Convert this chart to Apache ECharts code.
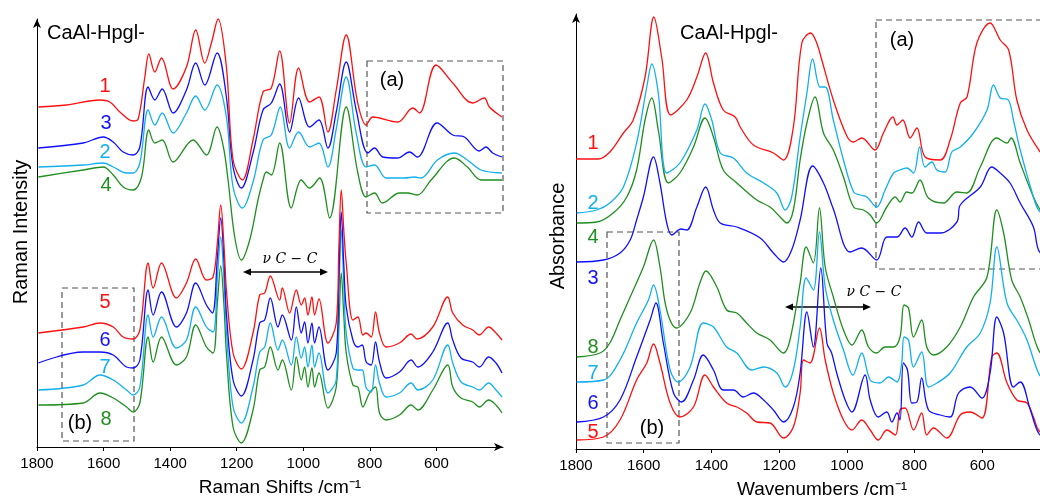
<!DOCTYPE html>
<html>
<head>
<meta charset="utf-8">
<script src="https://cdn.jsdelivr.net/npm/echarts@6/dist/echarts.min.js"></script>
<style>
  html, body { margin: 0; padding: 0; background: #fff; }
  #chart { width: 1040px; height: 499px; }
</style>
</head>
<body>
<div id="chart"></div>
<script>
// tick labels (cm-1)
const tickLabels = [1800, 1600, 1400, 1200, 1000, 800, 600];

// Raman spectra [wavenumber, intensity(a.u.)]
const raman1 = [[1796,340],[1711,342],[1611,347],[1581,345],[1551,335],[1511,326],[1496,328],[1476,370],[1464,393],[1446,375],[1426,389],[1391,358],[1351,380],[1323,417],[1296,384],[1276,404],[1256,428],[1231,380],[1211,287],[1183,267],[1151,307],[1121,355],[1096,359],[1071,396],[1041,324],[1014,379],[981,345],[953,350],[926,315],[901,357],[871,412],[837,345],[811,322],[791,330],[716,325],[671,339],[651,334],[601,382],[551,364],[491,344],[456,349],[441,340],[403,330]];
const raman3 = [[1796,299],[1661,304],[1601,310],[1571,305],[1541,295],[1511,292],[1491,300],[1466,360],[1446,347],[1424,358],[1391,334],[1351,357],[1323,384],[1296,362],[1259,394],[1231,350],[1211,280],[1186,259],[1151,294],[1121,337],[1096,344],[1071,363],[1041,315],[1014,349],[981,320],[953,327],[926,299],[901,335],[871,385],[841,337],[806,294],[786,299],[761,290],[717,289],[681,295],[657,290],[598,324],[551,312],[516,310],[471,296],[451,300],[431,294],[403,290]];
const raman2 = [[1796,280],[1661,282],[1601,284],[1571,280],[1531,274],[1511,274],[1491,284],[1466,337],[1446,322],[1424,334],[1391,314],[1351,334],[1323,351],[1296,337],[1259,362],[1231,330],[1211,260],[1183,239],[1151,265],[1121,307],[1096,312],[1069,340],[1041,299],[1014,315],[981,300],[953,304],[926,280],[901,318],[871,370],[841,314],[811,280],[786,282],[751,269],[696,269],[666,270],[646,269],[597,287],[546,294],[507,287],[466,277],[403,274]];
const raman4 = [[1796,270],[1661,277],[1601,280],[1571,272],[1541,260],[1511,257],[1486,270],[1464,317],[1446,304],[1424,307],[1391,285],[1331,307],[1291,292],[1259,320],[1240,300],[1226,267],[1206,210],[1186,187],[1161,207],[1136,247],[1121,267],[1111,275],[1096,272],[1071,304],[1036,239],[1006,267],[981,259],[951,269],[921,229],[871,340],[836,274],[811,250],[786,254],[762,244],[711,254],[687,254],[657,252],[616,267],[546,289],[507,280],[466,267],[403,267]];
const raman5 = [[1796,114],[1661,120],[1611,124],[1571,120],[1541,110],[1511,108],[1491,117],[1466,184],[1451,159],[1426,184],[1381,149],[1351,164],[1323,188],[1291,167],[1271,170],[1258,205],[1248,242],[1238,200],[1231,157],[1211,94],[1186,78],[1151,114],[1131,152],[1116,154],[1099,171],[1071,147],[1063,159],[1041,134],[1021,157],[1006,142],[996,149],[986,132],[974,150],[966,132],[953,148],[926,104],[901,124],[893,200],[886,257],[878,215],[871,184],[851,127],[836,130],[821,112],[811,114],[796,110],[783,135],[771,114],[751,100],[711,104],[676,113],[659,108],[611,120],[566,150],[551,134],[521,122],[491,117],[471,112],[443,120],[421,114],[403,107]];
const raman6 = [[1796,84],[1661,95],[1611,95],[1571,92],[1531,80],[1511,79],[1491,87],[1466,157],[1451,132],[1426,155],[1381,120],[1351,134],[1323,164],[1291,142],[1273,134],[1258,190],[1248,229],[1238,185],[1231,134],[1211,67],[1186,51],[1151,87],[1131,124],[1116,127],[1099,149],[1076,120],[1063,132],[1036,107],[1021,140],[1006,114],[996,125],[986,104],[974,124],[966,104],[953,120],[926,77],[901,94],[893,170],[886,235],[878,180],[871,140],[851,107],[836,100],[823,102],[811,85],[796,82],[783,105],[771,85],[751,69],[711,75],[676,87],[656,80],[611,95],[566,124],[551,107],[526,89],[491,85],[471,80],[443,90],[421,84],[403,74]];
const raman7 = [[1796,57],[1661,62],[1611,72],[1571,67],[1531,57],[1511,52],[1491,60],[1466,132],[1451,110],[1426,130],[1381,99],[1351,107],[1323,140],[1291,120],[1271,115],[1258,170],[1248,210],[1238,165],[1231,117],[1211,40],[1186,24],[1151,60],[1131,95],[1116,100],[1099,124],[1076,97],[1063,107],[1036,82],[1021,110],[1006,89],[996,100],[986,80],[974,102],[966,80],[953,94],[926,54],[901,67],[893,150],[886,217],[878,160],[871,114],[851,79],[836,77],[823,77],[811,59],[796,55],[783,82],[771,64],[751,50],[711,54],[676,64],[656,57],[611,67],[566,102],[551,84],[526,65],[491,60],[471,57],[443,64],[421,57],[403,50]];
const raman8 = [[1796,42],[1661,44],[1611,54],[1571,49],[1531,40],[1511,35],[1491,44],[1466,110],[1451,85],[1426,110],[1381,82],[1351,90],[1323,122],[1291,100],[1271,94],[1258,145],[1248,181],[1238,140],[1231,94],[1211,20],[1186,4],[1151,37],[1131,77],[1116,80],[1099,100],[1076,77],[1063,87],[1036,57],[1021,90],[1006,67],[996,80],[986,60],[974,79],[966,60],[953,74],[926,39],[901,60],[893,120],[886,174],[878,130],[871,94],[851,62],[836,60],[821,40],[801,54],[783,60],[771,34],[751,27],[711,32],[676,42],[656,37],[611,57],[566,82],[551,60],[526,49],[491,45],[471,40],[443,47],[421,42],[403,34]];

// IR spectra [wavenumber, absorbance(a.u.)]
const ir1 = [[1800,290],[1734,290],[1700,297],[1660,316],[1631,329],[1596,372],[1570,432],[1547,392],[1520,334],[1473,349],[1443,372],[1417,396],[1394,366],[1365,339],[1330,332],[1315,322],[1276,304],[1217,296],[1187,289],[1158,322],[1133,406],[1107,416],[1089,406],[1074,389],[1040,349],[1000,313],[981,307],[956,311],[917,299],[892,316],[864,332],[852,324],[835,329],[813,311],[793,321],[769,292],[724,289],[695,309],[665,346],[645,352],[616,406],[577,426],[547,409],[522,399],[498,349],[468,319],[429,297],[410,290]];
const ir2 = [[1798,236],[1739,239],[1700,246],[1660,262],[1621,306],[1591,362],[1576,385],[1557,356],[1532,276],[1493,286],[1443,319],[1419,345],[1399,329],[1374,296],[1335,291],[1296,276],[1246,266],[1207,256],[1182,239],[1163,252],[1138,312],[1118,356],[1101,390],[1079,362],[1064,362],[1040,329],[1010,289],[980,257],[961,254],[941,252],[912,242],[887,259],[862,276],[843,279],[823,281],[803,276],[785,302],[769,282],[749,287],[734,279],[710,277],[690,297],[665,302],[626,316],[586,339],[567,364],[547,351],[523,349],[508,329],[488,299],[449,252],[434,239],[410,232]];
const ir4 = [[1798,226],[1739,227],[1690,236],[1650,252],[1621,279],[1596,329],[1576,351],[1557,319],[1527,266],[1493,276],[1453,302],[1419,331],[1394,312],[1365,279],[1325,266],[1266,249],[1227,242],[1197,232],[1177,226],[1158,239],[1138,289],[1118,326],[1094,352],[1069,316],[1040,299],[1010,272],[980,242],[951,239],[931,234],[912,226],[882,242],[857,252],[843,247],[823,257],[808,256],[784,269],[759,251],[715,246],[675,257],[646,256],[606,282],[557,311],[527,306],[515,311],[488,286],[449,252],[429,239],[410,232]];
const ir3 = [[1798,187],[1719,189],[1670,196],[1640,209],[1621,229],[1601,252],[1571,292],[1552,266],[1532,226],[1517,214],[1490,220],[1473,219],[1443,242],[1417,262],[1394,239],[1374,226],[1325,222],[1256,211],[1217,196],[1187,187],[1163,199],[1138,229],[1101,283],[1069,266],[1040,240],[990,197],[956,201],[912,189],[882,212],[852,212],[828,221],[808,212],[788,227],[764,216],[724,216],[675,227],[665,244],[606,262],[572,282],[547,276],[518,266],[488,246],[449,222],[434,199],[410,190]];
const ir8 = [[1798,92],[1729,96],[1700,106],[1670,129],[1640,152],[1601,182],[1571,209],[1552,182],[1532,139],[1503,121],[1463,136],[1434,166],[1416,178],[1384,162],[1355,139],[1325,136],[1296,126],[1266,116],[1227,109],[1187,96],[1168,109],[1138,166],[1120,202],[1099,186],[1081,241],[1064,182],[1040,152],[1010,119],[985,104],[956,119],[936,102],[912,96],[887,102],[862,102],[843,112],[831,144],[818,141],[803,112],[779,129],[764,102],[744,94],[705,102],[665,122],[626,152],[586,172],[557,239],[537,216],[513,169],[488,152],[463,129],[434,99],[410,90]];
const ir7 = [[1798,67],[1719,69],[1670,89],[1621,126],[1586,149],[1571,164],[1552,139],[1522,79],[1498,67],[1463,82],[1424,126],[1394,122],[1355,102],[1325,96],[1281,79],[1246,82],[1207,76],[1182,62],[1158,79],[1138,122],[1120,171],[1099,159],[1081,217],[1064,162],[1040,129],[1010,99],[982,74],[956,96],[931,69],[902,66],[877,72],[852,67],[838,86],[831,112],[818,109],[803,82],[779,97],[759,62],[734,66],[695,76],[646,102],[606,116],[577,146],[557,202],[527,146],[493,126],[468,109],[434,76],[410,66]];
const ir6 = [[1798,27],[1719,32],[1670,49],[1621,92],[1581,129],[1564,146],[1542,106],[1512,56],[1488,47],[1453,69],[1424,94],[1394,79],[1365,59],[1335,59],[1306,52],[1276,56],[1246,49],[1217,39],[1187,27],[1158,42],[1138,76],[1118,137],[1099,102],[1077,181],[1059,106],[1045,96],[1030,76],[1005,49],[985,37],[946,74],[931,49],[907,32],[882,37],[867,27],[852,36],[843,29],[833,86],[821,79],[808,46],[793,47],[779,71],[759,39],[724,34],[695,32],[670,56],[636,62],[601,51],[577,76],[557,132],[537,116],[508,62],[488,67],[458,39],[434,16],[410,10]];
const ir5 = [[1798,9],[1719,12],[1670,29],[1621,69],[1591,86],[1571,105],[1552,86],[1522,46],[1493,32],[1453,42],[1419,74],[1394,62],[1355,46],[1325,42],[1296,36],[1266,27],[1227,26],[1187,11],[1158,22],[1138,56],[1128,89],[1109,86],[1081,121],[1064,89],[1040,56],[1010,29],[985,19],[956,29],[931,19],[907,9],[882,19],[857,14],[843,39],[828,41],[803,19],[779,36],[764,14],[744,21],[705,11],[665,34],[636,37],[601,31],[572,92],[557,96],[527,66],[498,49],[468,46],[449,32],[434,19],[410,12]];

const RED = '#ff1010', BLUE = '#1010ff', LBLUE = '#12b0ee', GREEN = '#1f8f1f';
const FONT = '"Liberation Sans", Arial, sans-serif';

const chart = echarts.init(document.getElementById('chart'));

function spec(data, color, g) {
  return {
    type: 'line', data: data, xAxisIndex: g, yAxisIndex: g,
    showSymbol: false, smooth: 0.35, silent: true,
    lineStyle: { color: color, width: 1.3 }, itemStyle: { color: color }
  };
}

function xAx(g) {
  return {
    type: 'value', gridIndex: g, inverse: true, min: 400, max: 1800, interval: 200,
    axisLine: { show: true, lineStyle: { color: '#000', width: 1 },
      symbol: g === 0 ? ['none', 'arrow'] : ['none', 'none'], symbolSize: [6, 9] },
    axisTick: { show: true, inside: false, length: 4, customValues: tickLabels, lineStyle: { color: '#000' } },
    axisLabel: { customValues: tickLabels, formatter: v => String(v), color: '#000', fontSize: 15, fontFamily: FONT, margin: 9 },
    splitLine: { show: false }
  };
}
function yAx(g, max) {
  return {
    type: 'value', gridIndex: g, min: 0, max: max,
    axisLine: { show: true, lineStyle: { color: '#000', width: 1 }, symbol: ['none', 'arrow'], symbolSize: [6, 9] },
    axisTick: { show: false }, axisLabel: { show: false }, splitLine: { show: false }
  };
}

function label(x, y, text, color, size, align) {
  return {
    type: 'text', x: x, y: y,
    style: { text: text, fill: color, font: (size || 20) + 'px ' + FONT, align: align || 'center', verticalAlign: 'middle' }
  };
}
function box(x, y, w, h) {
  return { type: 'rect', shape: { x: x, y: y, width: w, height: h },
    style: { fill: 'none', stroke: '#555', lineWidth: 1.2, lineDash: [6, 4] } };
}
function arrow(x1, x2, y) {
  return [
    { type: 'line', shape: { x1: x1 + 4, y1: y, x2: x2 - 4, y2: y }, style: { stroke: '#000', lineWidth: 1.3 } },
    { type: 'polygon', shape: { points: [[x1, y], [x1 + 8, y - 3.5], [x1 + 8, y + 3.5]] }, style: { fill: '#000' } },
    { type: 'polygon', shape: { points: [[x2, y], [x2 - 8, y - 3.5], [x2 - 8, y + 3.5]] }, style: { fill: '#000' } }
  ];
}
const nuStyle = { fill: '#000', font: 'italic 14px "DejaVu Serif", serif', align: 'center', verticalAlign: 'middle' };

chart.setOption({
  animation: false,
  grid: [
    { left: 37, width: 466, top: 19, bottom: 52, outerBoundsMode: 'none' },
    { left: 576, width: 474, top: 14, bottom: 50, outerBoundsMode: 'none' }
  ],
  xAxis: [xAx(0), xAx(1)],
  yAxis: [yAx(0, 428), yAx(1, 435)],
  series: [
    spec(raman4, GREEN, 0), spec(raman2, LBLUE, 0), spec(raman3, BLUE, 0), spec(raman1, RED, 0),
    spec(raman8, GREEN, 0), spec(raman7, LBLUE, 0), spec(raman6, BLUE, 0), spec(raman5, RED, 0),
    spec(ir4, GREEN, 1), spec(ir3, BLUE, 1), spec(ir2, LBLUE, 1), spec(ir1, RED, 1),
    spec(ir5, RED, 1), spec(ir6, BLUE, 1), spec(ir7, LBLUE, 1), spec(ir8, GREEN, 1)
  ],
  graphic: [
    // left panel
    label(47, 33, 'CaAl-Hpgl-', '#000', 20, 'left'),
    label(105, 86, '1', RED), label(106, 123, '3', BLUE), label(105, 152, '2', LBLUE), label(106, 185, '4', GREEN),
    label(105, 302, '5', RED), label(105, 340, '6', BLUE), label(105, 367, '7', LBLUE), label(106, 419, '8', GREEN),
    label(80, 423, '(b)', '#000'), label(392, 80, '(a)', '#000'),
    box(367, 61, 136, 152), box(62, 288, 72, 153),
    ...arrow(243, 328, 272),
    { type: 'text', x: 290, y: 259, style: Object.assign({ text: 'ν C − C' }, nuStyle) },
    { type: 'text', x: 21, y: 232, rotation: Math.PI / 2,
      style: { text: 'Raman Intensity', fill: '#000', font: '20px ' + FONT, align: 'center', verticalAlign: 'middle' } },
    label(280, 488, 'Raman Shifts /cm⁻¹', '#000', 19),
    // right panel
    label(680, 33, 'CaAl-Hpgl-', '#000', 20, 'left'),
    label(593, 143, '1', RED), label(593, 203, '2', LBLUE), label(593, 237, '4', GREEN), label(593, 278, '3', BLUE),
    label(593, 347, '8', GREEN), label(593, 373, '7', LBLUE), label(593, 403, '6', BLUE), label(593, 432, '5', RED),
    label(652, 428, '(b)', '#000'), label(902, 40, '(a)', '#000'),
    box(876, 20, 180, 249), box(607, 232, 72, 211),
    ...arrow(785, 871, 307),
    { type: 'text', x: 874, y: 292, style: Object.assign({ text: 'ν C − C' }, nuStyle) },
    { type: 'text', x: 558, y: 236, rotation: Math.PI / 2,
      style: { text: 'Absorbance', fill: '#000', font: '20px ' + FONT, align: 'center', verticalAlign: 'middle' } },
    label(822, 490, 'Wavenumbers /cm⁻¹', '#000', 19)
  ]
});
</script>
</body>
</html>
